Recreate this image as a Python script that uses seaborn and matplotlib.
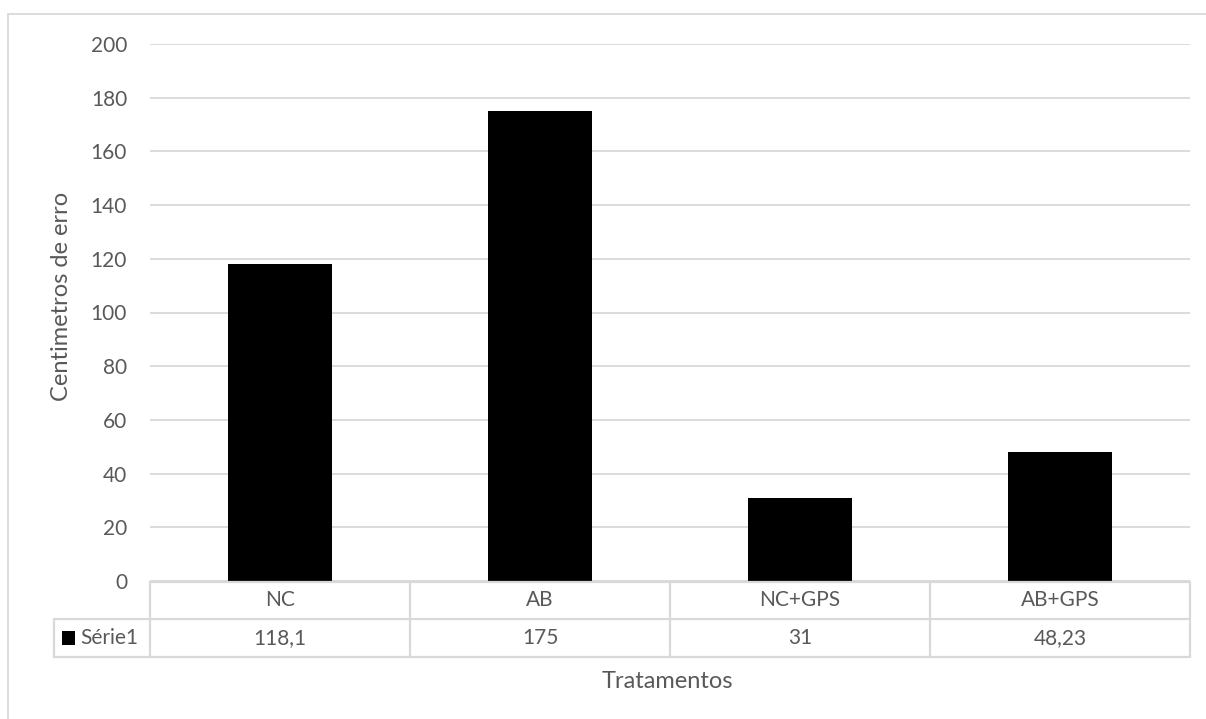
import matplotlib
matplotlib.use("Agg")
import matplotlib.pyplot as plt
import seaborn as sns
import pandas as pd
from matplotlib.lines import Line2D
from matplotlib.patches import Rectangle

categories = ["NC", "AB", "NC+GPS", "AB+GPS"]
values = [118.1, 175, 31, 48.23]
value_labels = ["118,1", "175", "31", "48,23"]
series_name = "Série1"
yticks = [0, 20, 40, 60, 80, 100, 120, 140, 160, 180, 200]

sns.set_theme(style="white")
plt.rcParams['font.family'] = ['Lato', 'DejaVu Sans']

W, H = 1206, 719
fig = plt.figure(figsize=(W / 100, H / 100), dpi=100)
fig.patch.set_facecolor("white")

def fx(x):
    return x / W

def fy(y):
    return 1 - y / H

left, right, top, bottom = 150, 1190, 44, 581
ax = fig.add_axes([fx(left), fy(bottom), fx(right) - fx(left), fy(top) - fy(bottom)])

df = pd.DataFrame({"cat": categories, "val": values})
sns.barplot(data=df, x="cat", y="val", color="black", width=0.4, ax=ax,
            saturation=1, edgecolor="none", zorder=3)

grid_c = "#d9d9d9"
text_c = "#595959"
fs = 15
ax.set_ylim(0, 200)
ax.set_xlim(-0.5, 3.5)
ax.set_yticks(yticks)
ax.set_yticklabels([str(t) for t in yticks], fontsize=fs, color=text_c)
ax.tick_params(axis="y", length=0, pad=16.5)
ax.set_xticks([])
ax.set_xlabel("")
ax.set_ylabel("")
ax.yaxis.grid(True, color=grid_c, linewidth=1.3, zorder=0)
ax.set_axisbelow(True)
for s in ax.spines.values():
    s.set_visible(False)

def line(x0, y0, x1, y1, lw=1.6):
    fig.add_artist(Line2D([fx(x0), fx(x1)], [fy(y0), fy(y1)], color=grid_c,
                          linewidth=lw, transform=fig.transFigure))

# data table
r0, r1, r2 = 582, 619, 657
cols = [150, 410, 670, 930, 1190]
line(150, r0, 1190, r0)
line(54, r1, 1190, r1)
line(54, r2, 1190, r2)
for c in cols:
    line(c, r0, c, r2)
line(54, r1, 54, r2)

for i, (cat, lab) in enumerate(zip(categories, value_labels)):
    cx = (cols[i] + cols[i + 1]) / 2
    fig.text(fx(cx), fy((r0 + r1) / 2), cat, ha="center", va="center",
             fontsize=fs, color=text_c)
    fig.text(fx(cx), fy((r1 + r2) / 2), lab, ha="center", va="center",
             fontsize=fs, color=text_c)

fig.add_artist(Rectangle((fx(62), fy(645)), fx(13), fy(631) - fy(645),
                         facecolor="black", edgecolor="none",
                         transform=fig.transFigure))
fig.text(fx(80), fy((r1 + r2) / 2), series_name, ha="left", va="center",
         fontsize=fs, color=text_c)

# axis titles
fig.text(fx(667), fy(681), "Tratamentos", ha="center", va="center",
         fontsize=17, color=text_c)
fig.text(fx(62), fy(296), "Centimetros de erro", ha="center",
         va="center", rotation=90, fontsize=17, color=text_c)

# chart border (left and top visible)
line(8, 14, 1206, 14, lw=1.3)
line(8, 14, 8, 719, lw=1.3)

fig.savefig("out.png", dpi=100, facecolor="white")
